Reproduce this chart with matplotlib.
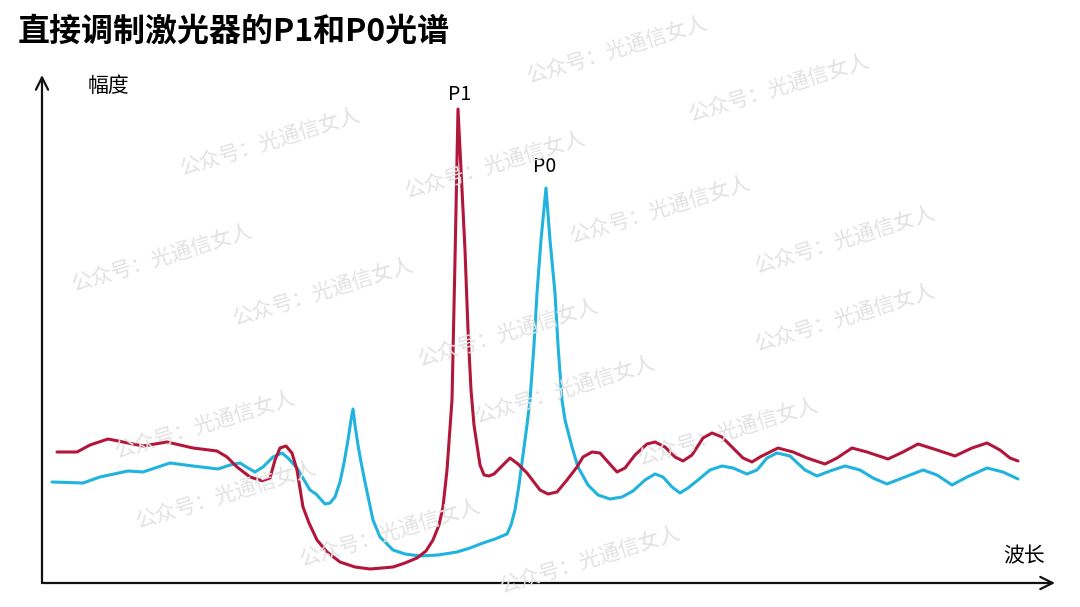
import numpy as np
import matplotlib.pyplot as plt

plt.rcParams['font.family'] = ['Noto Sans CJK SC', 'DejaVu Sans']

# spectra (wavelength in arbitrary units, amplitude arbitrary)
p1_wl = [15, 35, 48, 66, 81, 101, 125, 138, 151, 175, 185, 195, 208, 221, 228, 233, 238, 244, 250, 255,
         261, 267, 275, 285, 298, 313, 328, 340, 351, 363, 375, 384, 391, 397, 401, 405,
         410, 413, 416, 423, 426, 429, 432, 435, 438, 442, 447, 452, 460, 468, 476, 485,
         498, 506, 515, 525, 535, 541, 550, 558, 566, 575, 583, 593, 605, 613, 623, 633, 641, 650,
         661, 670, 680, 691, 701, 710, 718, 728, 736, 751, 765, 783, 795, 810, 825, 846, 861, 876,
         895, 913, 930, 945, 958, 968, 976]
p1_amp = [131, 131, 138, 144, 141, 137, 141, 138, 135, 132, 126, 116, 106, 102, 105, 123, 135, 137, 130, 113,
          76, 60, 43, 31, 21, 16, 14, 15, 16, 20, 25, 32, 43, 58, 76, 113,
          183, 323, 474, 333, 253, 193, 158, 138, 118, 108, 107, 109, 117, 125, 119, 110,
          93, 89, 91, 103, 116, 126, 131, 130, 121, 111, 115, 128, 139, 141, 136, 126, 122, 128,
          145, 150, 146, 135, 125, 121, 126, 131, 135, 131, 125, 119, 125, 135, 131, 124, 131, 139,
          133, 127, 135, 140, 133, 125, 122]

p0_wl = [10, 41, 58, 86, 101, 128, 151, 176, 188, 198, 206, 213, 221, 231, 240, 246, 255, 268, 274, 283,
         288, 293, 298, 302, 306, 309, 311, 313, 316, 319, 324, 331, 338, 351, 363,
         378, 396, 415, 428, 441, 453, 465, 469, 473, 477, 481, 485, 488, 492, 495, 499, 504, 508, 513, 516,
         520, 523, 530, 536, 546, 556, 568, 580, 591, 603, 613, 621, 630, 638, 646, 656, 668, 680, 691, 705,
         715, 725, 735, 748, 763, 775, 788, 803, 818, 831, 845, 863, 881, 895, 910, 925, 945, 961, 976]
p0_amp = [101, 100, 106, 112, 111, 120, 117, 114, 118, 120, 115, 111, 116, 126, 130, 125, 115, 93, 89, 79,
          80, 86, 101, 120, 143, 163, 174, 158, 138, 121, 96, 63, 46, 33, 29,
          27, 28, 31, 35, 40, 44, 49, 58, 73, 98, 128, 158, 183, 238, 290, 343, 395, 343, 290, 238,
          183, 163, 136, 116, 98, 88, 84, 86, 92, 103, 109, 106, 96, 90, 95, 103, 113, 117, 115, 109,
          113, 125, 130, 127, 113, 107, 112, 117, 113, 105, 99, 106, 113, 108, 98, 106, 115, 111, 104]

W, H = 1080, 607
fig = plt.figure(figsize=(W / 100, H / 100), dpi=100)
ax = fig.add_axes([42 / W, (H - 583) / H, (1055 - 42) / W, (583 - 75) / H])

# faint watermark, repeated
marks = [(617, 50), (779, 88), (270, 142), (495, 165), (660, 210), (845, 240), (162, 258), (323, 292),
         (845, 318), (508, 333), (565, 390), (205, 425), (728, 432), (226, 495), (390, 533), (590, 560)]
for mx, my in marks:
    fig.text(mx / W, 1 - my / H, '公众号：光通信女人', fontsize=15, color='#e2e2e2',
             rotation=17, ha='center', va='center', zorder=0)

ax.plot(p0_wl, p0_amp, color='#1fb3dd', lw=2.2, solid_joinstyle='round', solid_capstyle='round', zorder=3)
ax.plot(p1_wl, p1_amp, color='#b2163b', lw=2.2, solid_joinstyle='round', solid_capstyle='round', zorder=4)

ax.set_xlim(0, 1013)
ax.set_ylim(0, 508)
ax.patch.set_alpha(0)
for s in ax.spines.values():
    s.set_visible(False)
ax.set_xticks([])
ax.set_yticks([])

arrow = dict(arrowstyle='->', lw=1.6, color='#111111', mutation_scale=22, shrinkA=0, shrinkB=0)
ax.annotate('', xy=(0, 1), xytext=(0, 0), xycoords='axes fraction', arrowprops=arrow)
ax.annotate('', xy=(1, 0), xytext=(0, 0), xycoords='axes fraction', arrowprops=arrow)

ax.text(418, 488, 'P1', fontsize=14, ha='center', va='center')
ax.text(503, 417, 'P0', fontsize=14, ha='center', va='center')

fig.text(88 / W, 1 - 86 / H, '幅度', fontsize=15, ha='left', va='center')
fig.text(1003 / W, 1 - 556 / H, '波长', fontsize=15, ha='left', va='center')
fig.text(18 / W, 1 - 32 / H, '直接调制激光器的P1和P0光谱', fontsize=23, fontweight='black',
         ha='left', va='center')

fig.savefig('out.png', dpi=100)
